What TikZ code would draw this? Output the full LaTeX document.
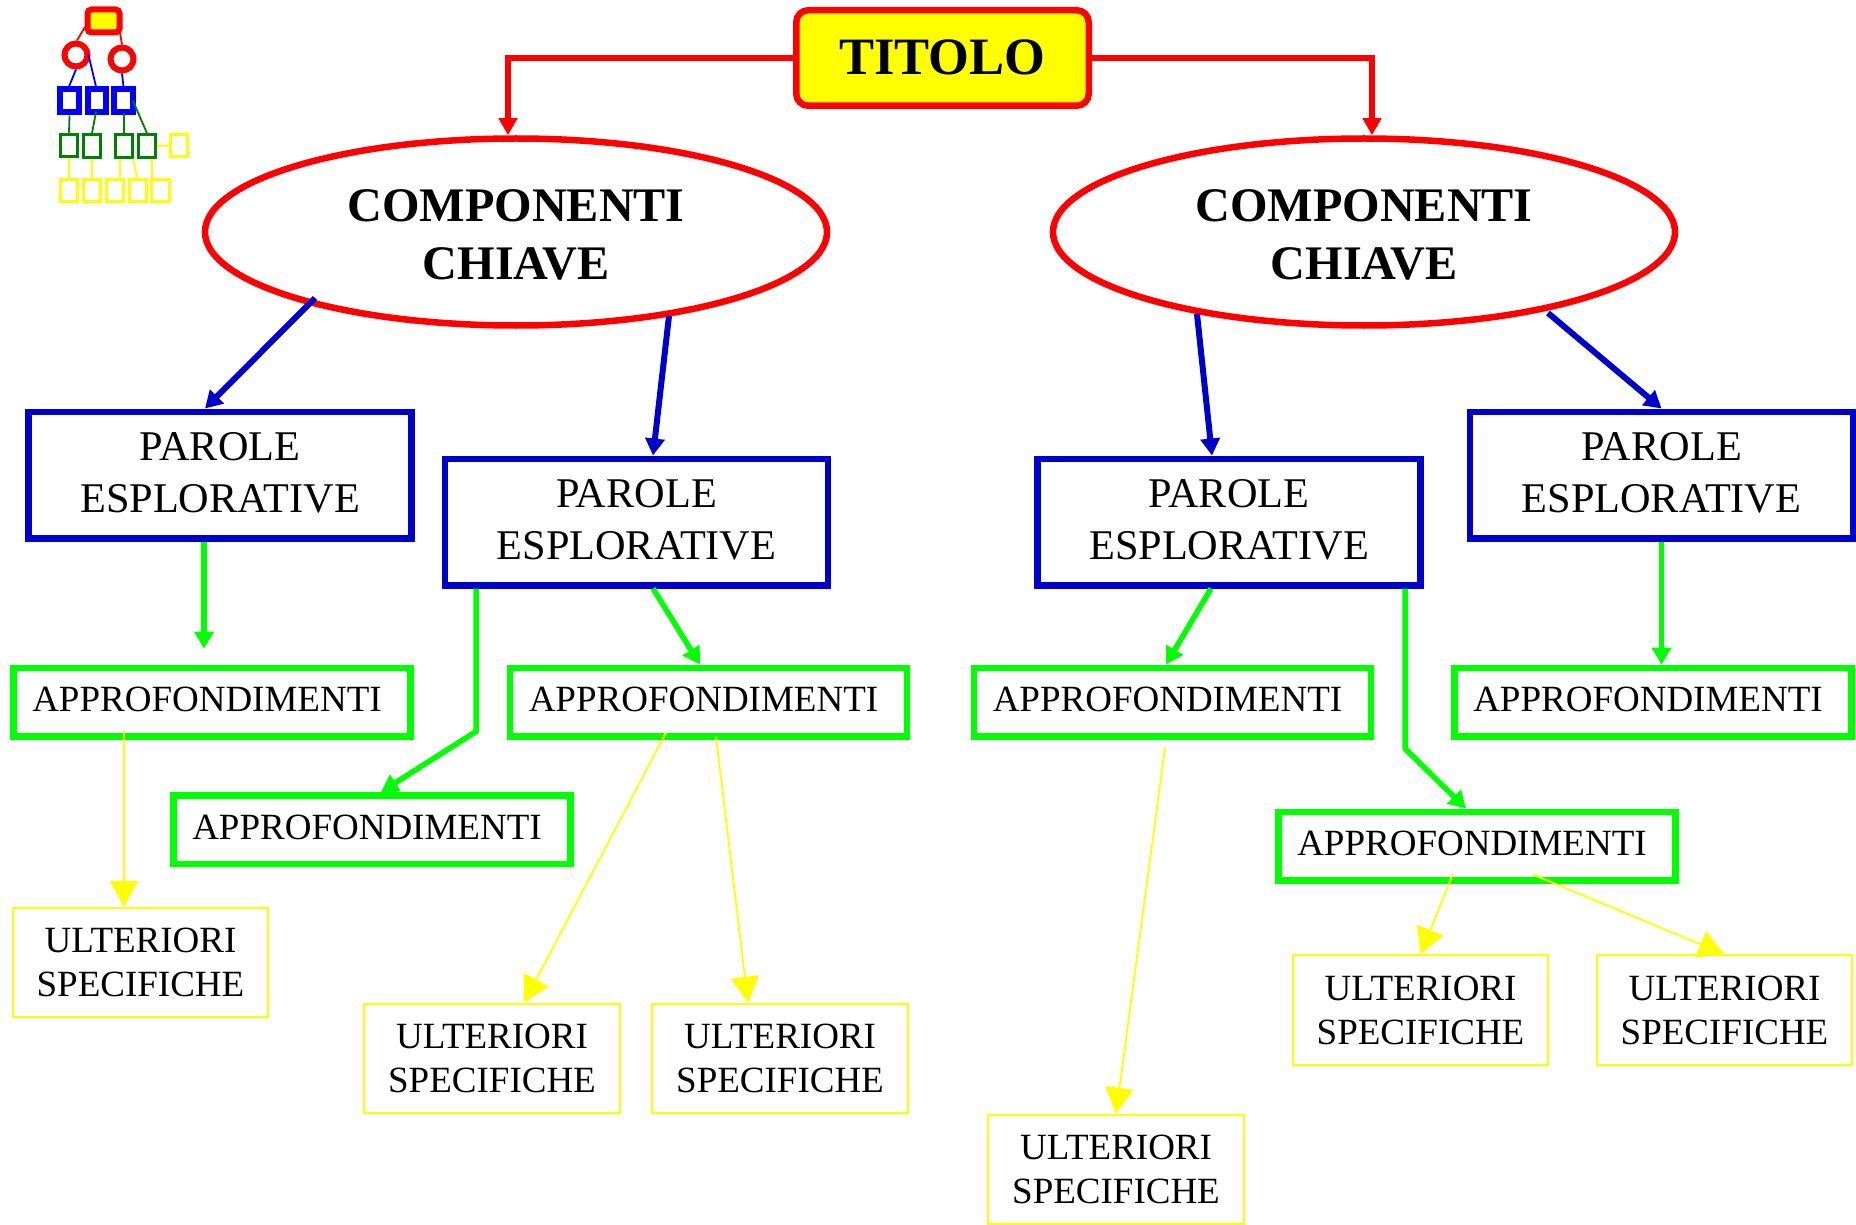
\documentclass[tikz,border=0pt]{standalone}
\usepackage{fontspec}
\setmainfont{Liberation Serif}
\usetikzlibrary{arrows.meta,shapes.geometric}
\definecolor{cred}{HTML}{FF0000}
\definecolor{cblue}{HTML}{0000CC}
\definecolor{cgreen}{HTML}{00FF00}
\definecolor{cyel}{HTML}{FFFF00}
\definecolor{cicob}{HTML}{0000FF}
\definecolor{cicog}{HTML}{007F00}
\newcommand\lbl[3]{\makebox[0pt][c]{\hspace*{\dimexpr #1pt*2\relax}\raisebox{\dimexpr -#2pt\relax}[0pt][0pt]{#3}}}
\newcommand\parole{\fontsize{42.3}{42.3}\selectfont\lbl{0}{-15}{PAROLE}\lbl{0}{37.6}{ESPLORATIVE}}
\newcommand\appro{\fontsize{37}{37}\selectfont\lbl{-5}{9.6}{APPROFONDIMENTI}}
\newcommand\ulter{\fontsize{37}{37}\selectfont\lbl{0}{-10}{ULTERIORI}\lbl{0}{34}{SPECIFICHE}}
\newcommand\compo{\fontsize{48.2}{48.2}\selectfont\bfseries\lbl{0}{-10}{COMPONENTI}\lbl{0}{48}{CHIAVE}}
\tikzset{
 every node/.style={inner sep=0pt},
 titlebox/.style={draw=cred,fill=cyel,line width=6.5pt,rounded corners=12pt,minimum width=292.5pt,minimum height=95.5pt},
 ellbox/.style={ellipse,draw=cred,line width=6.5pt,minimum width=622pt,minimum height=187pt},
 bluebox/.style={draw=cblue,line width=6.5pt,minimum width=383pt,minimum height=126.5pt},
 greenbox/.style={draw=cgreen,line width=6.5pt,minimum width=397pt,minimum height=68.5pt},
 yelbox/.style={draw=cyel,line width=2pt,minimum width=255.5pt,minimum height=109.5pt},
 redarrow/.style={draw=cred,line width=5.5pt,-{Triangle[length=17pt,width=18pt]}},
 bluearrow/.style={draw=cblue,line width=6pt,-{Triangle[length=17pt,width=19pt]}},
 greenarrow/.style={draw=cgreen,line width=5.5pt,-{Triangle[length=17pt,width=19pt]}},
 yelarrow/.style={draw=cyel,line width=1.8pt,-{Triangle[length=26pt,width=28pt]}},
 icotop/.style={draw=cred,fill=cyel,line width=6pt,rounded corners=4pt,minimum width=32pt,minimum height=23pt},
 icocirc/.style={circle,draw=cred,line width=6pt,minimum size=23pt},
 icoblue/.style={draw=cicob,line width=6pt,minimum width=18.5pt,minimum height=23pt},
 icogreen/.style={draw=cicog,line width=3pt,minimum width=17.5pt,minimum height=22.5pt},
 icoyel/.style={draw=cyel,line width=3pt,minimum width=17.5pt,minimum height=22.5pt},
 icored/.style={draw=cred,line width=1.8pt},
 icob/.style={draw=cicob,line width=1.8pt},
 icog/.style={draw=cicog,line width=1.8pt},
 icoy/.style={draw=cyel,line width=1.8pt},
}
\begin{document}
\begin{tikzpicture}[x=1pt,y=-1pt]
\useasboundingbox (0,0) rectangle (1856,1225);
% main nodes
\node[titlebox] (title) at (942.5,58) {\fontsize{52.5}{52.5}\selectfont\bfseries\lbl{0}{17}{TITOLO}};
\node[ellbox] (e1) at (516,232) {\compo};
\node[ellbox] (e2) at (1364,232) {\compo};
\node[bluebox] (ba) at (220,475) {\parole};
\node[bluebox] (bb) at (636.5,522) {\parole};
\node[bluebox] (bc) at (1229,522) {\parole};
\node[bluebox] (bd) at (1661.5,475) {\parole};
\node[greenbox] (ga) at (212,702) {\appro};
\node[greenbox] (gb) at (372,829.5) {\appro};
\node[greenbox] (gc) at (708.5,702) {\appro};
\node[greenbox] (gd) at (1172.5,702) {\appro};
\node[greenbox] (ge) at (1653,702) {\appro};
\node[greenbox] (gf) at (1477,846) {\appro};
\node[yelbox] (ya) at (140.5,962.5) {\ulter};
\node[yelbox] (yb) at (492,1058.5) {\ulter};
\node[yelbox] (yc) at (780,1058.5) {\ulter};
\node[yelbox] (yd) at (1116,1169.5) {\ulter};
\node[yelbox] (ye) at (1420.5,1010) {\ulter};
\node[yelbox] (yf) at (1724.5,1010) {\ulter};
% red connectors
\draw[redarrow] (title.west) -| ([xshift=-8pt]e1.north);
\draw[redarrow] (title.east) -| ([xshift=8pt]e2.north);
% blue connectors
\draw[bluearrow] ([shift={(-201,66)}]e1.center) -- ([xshift=-15pt]ba.north);
\draw[bluearrow] ([shift={(153,84)}]e1.center) -- ([xshift=16.5pt]bb.north);
\draw[bluearrow] ([shift={(-167,82)}]e2.center) -- ([xshift=-17pt]bc.north);
\draw[bluearrow] ([shift={(184,81)}]e2.center) -- (bd.north);
% green connectors
\draw[greenarrow] ([xshift=-16pt]ba.south) -- ([shift={(-8,-16)}]ga.north);
\draw[greenarrow,line join=round] ([xshift=-160.5pt]bb.south) -- ++(0,143) -- ([xshift=9pt]gb.north);
\draw[greenarrow] ([xshift=16.5pt]bb.south) -- ([xshift=-8.5pt]gc.north);
\draw[greenarrow] ([xshift=-18pt]bc.south) -- ([xshift=-6.5pt]gd.north);
\draw[greenarrow,line join=round] ([xshift=176pt]bc.south) -- ++(0,160) -- ([xshift=-11pt]gf.north);
\draw[greenarrow] (bd.south) -- ([xshift=8.5pt]ge.north);
% yellow connectors
\draw[yelarrow] ([shift={(-88,-9)}]ga.south) -- ([xshift=-16.5pt]ya.north);
\draw[yelarrow] ([shift={(-42.5,-7)}]gc.south) -- ([xshift=32pt]yb.north);
\draw[yelarrow] ([shift={(7.5,-3)}]gc.south) -- ([xshift=-32pt]yc.north);
\draw[yelarrow] ([shift={(-7.5,8)}]gd.south) -- (yd.north);
\draw[yelarrow] ([shift={(-24.4,-9)}]gf.south) -- (ye.north);
\draw[yelarrow] ([shift={(56,-9)}]gf.south) -- (yf.north);
% icon
\node[icotop] (i0) at (103.5,21) {};
\node[icocirc] (c1) at (76,55) {};
\node[icocirc] (c2) at (122,59) {};
\node[icoblue] (b1) at (69.5,101) {};
\node[icoblue] (b2) at (97,101) {};
\node[icoblue] (b3) at (123.5,101) {};
\node[icogreen] (g1) at (69,145.5) {};
\node[icogreen] (g2) at (92,146) {};
\node[icogreen] (g3) at (124,146) {};
\node[icogreen] (g4) at (147,146) {};
\node[icoyel] (yr) at (179,145.5) {};
\node[icoyel] (y1) at (69,190.5) {};
\node[icoyel] (y2) at (92,190.5) {};
\node[icoyel] (y3) at (115,190.5) {};
\node[icoyel] (y4) at (138,190.5) {};
\node[icoyel] (y5) at (160.5,190.5) {};
\draw[icored] ([shift={(-18.5,6)}]i0.center) -- ([xshift=1pt]c1.north);
\draw[icored] ([shift={(16.5,12)}]i0.center) -- (c2.north);
\draw[icob] (c1.south) -- ([xshift=-0.5pt]b1.north);
\draw[icob] ([xshift=-2pt]c1.east) -- ([xshift=-1pt]b2.north);
\draw[icob] (c2.south) -- (b3.north);
\draw[icog] (b1.south) -- (g1.north);
\draw[icog] ([shift={(-1,11)}]b2.center) -- (g2.north);
\draw[icog] ([shift={(0.5,12)}]b3.center) -- (g3.north);
\draw[icog] ([shift={(9.5,0)}]b3.center) -- (g4.north);
\draw[icoy] (g1.south) -- (y1.north);
\draw[icoy] (g2.south) -- (y2.north);
\draw[icoy] ([xshift=-4pt]g3.south) -- ([xshift=5pt]y3.north);
\draw[icoy] ([xshift=9pt]g3.south) -- ([xshift=-1pt]y4.north);
\draw[icoy] ([xshift=5pt]g4.south) -- ([xshift=-8.5pt]y5.north);
\draw[icoy] (g4.east) -- (yr.west);
\end{tikzpicture}
\end{document}
